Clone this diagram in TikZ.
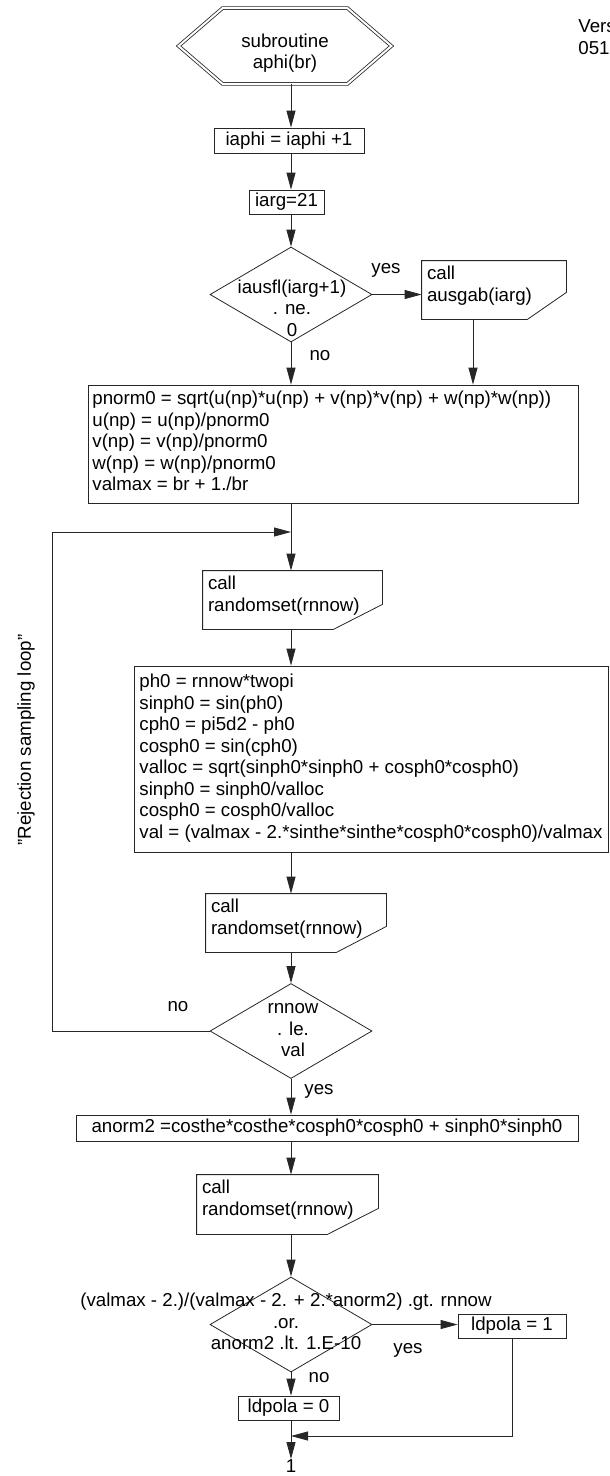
\documentclass[tikz,border=0pt]{standalone}
\usepackage{fontspec}
\setmainfont{Liberation Sans}
\usetikzlibrary{shapes.geometric,arrows.meta}
\newcommand\cutshape[3]{\draw[ln] (#1.north west) -- (#1.north east) -- ([shift={(0,-#3)}]#1.south east) -- ([shift={(-#2,0)}]#1.south east) -- (#1.south west) -- cycle;}
\begin{document}
\begin{tikzpicture}[x=1pt,y=-1pt,
  font=\fontsize{18.7}{21.5}\selectfont,
  line width=0.8pt,
  ln/.style={draw=black!85},
  arr/.style={draw=black!85,-{Triangle[length=17pt,width=9pt]}},
  plain/.style={inner sep=0pt},
  frame/.style={draw=black!85,rectangle,inner sep=0pt},
  dia/.style={draw=black!85,diamond,inner sep=0pt,minimum width=162,minimum height=95},
  hold/.style={rectangle,inner sep=0pt}]
\useasboundingbox (0,0) rectangle (610,1476);
\coordinate (ax) at (291,0);
\coordinate (c1x) at (473,0);

% start hexagon
\node[hold,minimum width=212,minimum height=75] (hex) at (285,46) {};
\draw[ln,double,double distance=2pt] (hex.west) -- ([shift={(44,0)}]hex.north west) -- ([shift={(-44,0)}]hex.north east) -- (hex.east) -- ([shift={(-44,0)}]hex.south east) -- ([shift={(44,0)}]hex.south west) -- cycle;
\node[plain,anchor=north,align=center] (hext) at (285,33.5) {subroutine\\aphi(br)};

\node[plain,anchor=north west,align=left] (ver) at (578,19.6) {Vers\\051};

\node[frame,minimum width=150,minimum height=25] (iaphi) at (289,140.5) {iaphi = iaphi +1};
\node[frame,minimum width=75,minimum height=24] (iarg) at (286.5,202) {iarg=21};

\node[dia] (d1) at (291,294.5) {};
\node[plain,anchor=north,align=center] (d1t) at (292,279.5) {iausfl(iarg+1)\\. ne.\\0};
\node[plain] (yes1) at (386,270) {yes};
\node[plain] (no1) at (320,356) {no};

\node[hold,minimum width=144,minimum height=58] (c1) at (494,290) {};
\cutshape{c1}{39}{27}
\node[plain,anchor=north west,align=left] (c1t) at ([shift={(5,5)}]c1.north west) {call\\ausgab(iarg)};

\node[frame,minimum width=490,minimum height=118] (pn) at (333,444) {};
\node[plain,anchor=north west,align=left] (pnt) at (92,391) {pnorm0 = sqrt(u(np)*u(np) + v(np)*v(np) + w(np)*w(np))\\u(np) = u(np)/pnorm0\\v(np) = v(np)/pnorm0\\w(np) = w(np)/pnorm0\\valmax = br + 1./br};

\coordinate (lj) at (291,532);
\coordinate (lc) at (52,532);

\node[hold,minimum width=179,minimum height=58] (c2) at (292.5,600) {};
\cutshape{c2}{49}{25}
\node[plain,anchor=north west,align=left] (c2t) at ([shift={(5,5)}]c2.north west) {call\\randomset(rnnow)};

\node[frame,minimum width=474,minimum height=186] (ph) at (371,759) {};
\node[plain,anchor=north west,align=left] (pht) at (139,673.6) {ph0 = rnnow*twopi\\sinph0 = sin(ph0)\\cph0 = pi5d2 - ph0\\cosph0 = sin(cph0)\\valloc = sqrt(sinph0*sinph0 + cosph0*cosph0)\\sinph0 = sinph0/valloc\\cosph0 = cosph0/valloc\\val = (valmax - 2.*sinthe*sinthe*cosph0*cosph0)/valmax};

\node[plain,rotate=90] (rsl) at (26,740) {"Rejection sampling loop"};

\node[hold,minimum width=180,minimum height=58] (c3) at (296,923) {};
\cutshape{c3}{50}{26}
\node[plain,anchor=north west,align=left] (c3t) at ([shift={(5,5)}]c3.north west) {call\\randomset(rnnow)};

\node[dia] (d2) at (291,1031) {};
\node[plain,anchor=north,align=center] (d2t) at (293,1003.3) {rnnow\\. le.\\val};
\node[plain] (no2) at (178,1007) {no};
\node[plain] (yes2) at (319,1091) {yes};

\node[frame,minimum width=502,minimum height=26] (an) at (327,1128) {anorm2 =costhe*costhe*cosph0*cosph0 + sinph0*sinph0};

\node[hold,minimum width=181,minimum height=59] (c4) at (287.5,1204.5) {};
\cutshape{c4}{51}{26}
\node[plain,anchor=north west,align=left] (c4t) at ([shift={(5,5)}]c4.north west) {call\\randomset(rnnow)};

\node[dia] (d3) at (291,1324.5) {};
\node[plain,anchor=north,align=center] (d3t) at (286,1292.6) {(valmax - 2.)/(valmax - 2. + 2.*anorm2) .gt. rnnow\\.or.\\anorm2 .lt. 1.E-10};
\node[plain] (yes3) at (408,1350) {yes};
\node[plain] (no3) at (319,1378) {no};

\node[frame,minimum width=108,minimum height=24] (ld1) at (512,1326) {ldpola = 1};
\node[frame,minimum width=101,minimum height=24] (ld0) at (288.5,1408) {ldpola = 0};
\coordinate (mj) at (291,1436);
\node[plain,anchor=north] (one) at (291,1459) {1};

% connectors
\draw[arr] (hex.south -| ax) -- (iaphi.north -| ax);
\draw[arr] (iaphi.south -| ax) -- (iarg.north -| ax);
\draw[arr] (iarg.south -| ax) -- (d1.north);
\draw[arr] (d1.east) -- (d1.east -| c1.west);
\draw[arr] (c1.south -| c1x) -- (pn.north -| c1x);
\draw[arr] (d1.south) -- (pn.north -| ax);
\draw[arr] (pn.south -| ax) -- (c2.north -| ax);
\draw[arr] (d2.west) -| (lc) -- (lj);
\draw[arr] (c2.south -| ax) -- (ph.north -| ax);
\draw[arr] (ph.south -| ax) -- (c3.north -| ax);
\draw[arr] (c3.south -| ax) -- (d2.north);
\draw[arr] (d2.south) -- (an.north -| ax);
\draw[arr] (an.south -| ax) -- (c4.north -| ax);
\draw[arr] (c4.south -| ax) -- (d3.north);
\draw[arr] (d3.east) -- (d3.east -| ld1.west);
\draw[arr] (d3.south) -- (ld0.north -| ax);
\draw[arr] (ld1.south) |- (mj);
\draw[arr] (ld0.south -| ax) -- (one.north);
\end{tikzpicture}
\end{document}
